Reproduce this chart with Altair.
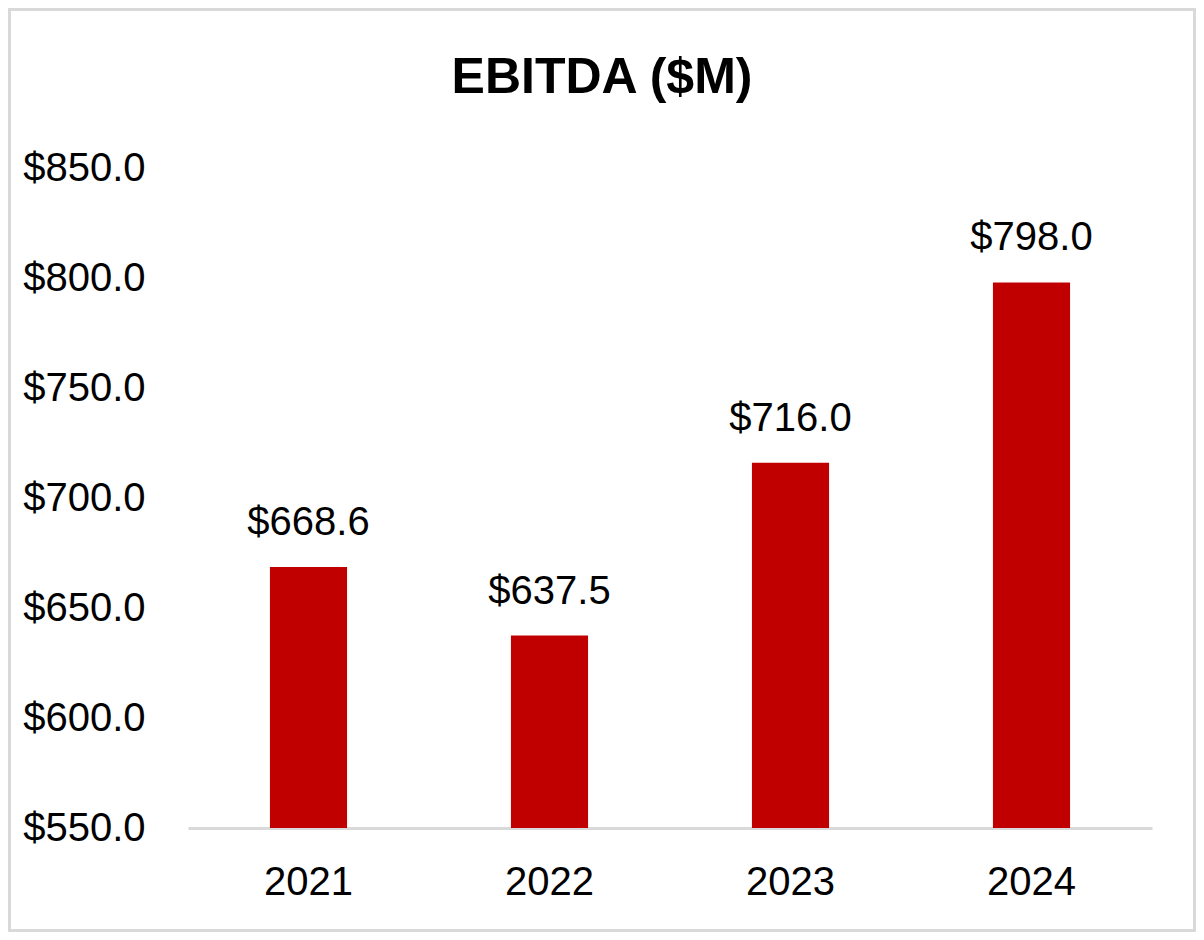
import altair as alt
import pandas as pd

title_text = "EBITDA ($M)"
years = ["2021", "2022", "2023", "2024"]
ebitda = [668.6, 637.5, 716.0, 798.0]
labels = ["$668.6", "$637.5", "$716.0", "$798.0"]
y_ticks = [550, 600, 650, 700, 750, 800, 850]
y_min, y_max = 550, 850

df = pd.DataFrame({"year": years, "value": ebitda, "label": labels})

FONT = "Liberation Sans, Arial, sans-serif"
PW, PH = 964, 660
PL, PT, PR, PB = 180, 160, 44, 104

base = alt.Chart(df)

bars = base.mark_bar(color="#C00000").encode(
    x=alt.X("year:N", sort=years, title=None,
            scale=alt.Scale(paddingInner=0.68, paddingOuter=0.34),
            axis=alt.Axis(labelAngle=0, labelFontSize=40, labelFont=FONT, labelColor="#000000",
                          domainColor="#D9D9D9", domainWidth=3, ticks=False, labelPadding=34)),
    y=alt.Y("value:Q", title=None,
            scale=alt.Scale(domain=[y_min, y_max], nice=False, zero=False),
            axis=alt.Axis(values=y_ticks, format="$.1f", labelFontSize=40, labelFont=FONT,
                          labelColor="#000000", domain=False, ticks=False, grid=False,
                          labelPadding=43)),
    y2=alt.datum(y_min),
)

text = base.mark_text(baseline="alphabetic", dy=-32, fontSize=40, font=FONT, color="#000000").encode(
    x=alt.X("year:N", sort=years),
    y=alt.Y("value:Q"),
    text="label:N",
)

deco = pd.DataFrame({"t": [title_text]})

border = alt.Chart(deco).mark_rect(
    fill=None, stroke="#D9D9D9", strokeWidth=3
).encode(
    x=alt.value(-PL + 1.5), x2=alt.value(PW + PR - 1.5),
    y=alt.value(-PT + 1.5), y2=alt.value(PH + PB - 1.5),
)

title = alt.Chart(deco).mark_text(
    fontSize=50, font=FONT, fontWeight="bold", color="#000000",
    align="center", baseline="alphabetic"
).encode(
    x=alt.value(414), y=alt.value(-75), text="t:N",
)

chart = alt.layer(border, bars, text, title).properties(
    width=PW, height=PH,
    autosize=alt.AutoSizeParams(type="none"),
    padding={"left": PL, "top": PT, "right": PR, "bottom": PB},
    background="white",
).configure_view(strokeWidth=0, stroke=None)

chart.save("out.html", embed_options={"renderer": "svg", "actions": False})
